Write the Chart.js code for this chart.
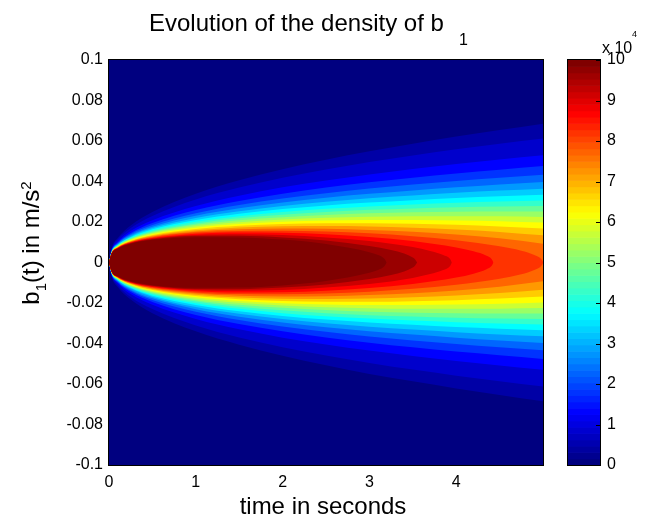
<!DOCTYPE html>
<html><head><meta charset="utf-8">
<script src="https://cdn.jsdelivr.net/npm/chart.js@4.4.1/dist/chart.umd.min.js"></script>
<style>
html,body{margin:0;padding:0;background:#fff;}
#wrap{position:relative;width:671px;height:521px;overflow:hidden;}
#main{position:absolute;left:0;top:0;}
#cbar{position:absolute;left:560px;top:0;}
</style></head><body>
<div id="wrap"><canvas id="main" width="671" height="521"></canvas><canvas id="cbar" width="111" height="521"></canvas></div>
<script>
// ---- data ----
// sample times (s)
const timesS = [0, 0.03, 0.1, 0.25, 0.5, 1, 1.5, 2, 2.5, 3, 3.5, 4, 4.5, 5];
// density contour levels (x 10^4)
const densityLevels = [0.25, 0.5, 1, 1.5, 2, 2.5, 3, 3.5, 4, 4.5, 5, 5.5, 6, 6.5, 7, 7.5, 8, 8.5, 9, 9.5, 10];
// time at which a closed level region ends (null = reaches the right edge)
const levelEndTimes = [null, null, null, null, null, null, null, null, null, null, null, null, null, null, null, null, null, 4.43, 3.95, 3.55, 3.2];
// half-width |b1| (m/s^2) of the region where density >= level, at each sample time
const hw_0_25 = [0, 0.0070, 0.0121, 0.0183, 0.0250, 0.0340, 0.0406, 0.0461, 0.0508, 0.0550, 0.0587, 0.0622, 0.0654, 0.0685];
const hw_0_5  = [0, 0.0066, 0.0113, 0.0170, 0.0230, 0.0311, 0.0370, 0.0418, 0.0459, 0.0496, 0.0529, 0.0559, 0.0586, 0.0612];
const hw_1    = [0, 0.0061, 0.0104, 0.0156, 0.0209, 0.0279, 0.0330, 0.0371, 0.0405, 0.0435, 0.0462, 0.0487, 0.0509, 0.0530];
const hw_1_5  = [0, 0.0059, 0.0099, 0.0146, 0.0195, 0.0259, 0.0304, 0.0340, 0.0370, 0.0396, 0.0419, 0.0440, 0.0458, 0.0476];
const hw_2    = [0, 0.0057, 0.0095, 0.0140, 0.0185, 0.0243, 0.0284, 0.0316, 0.0342, 0.0365, 0.0385, 0.0403, 0.0419, 0.0433];
const hw_2_5  = [0, 0.0055, 0.0092, 0.0134, 0.0177, 0.0231, 0.0268, 0.0296, 0.0320, 0.0339, 0.0356, 0.0371, 0.0385, 0.0397];
const hw_3    = [0, 0.0054, 0.0089, 0.0129, 0.0170, 0.0220, 0.0253, 0.0279, 0.0300, 0.0317, 0.0331, 0.0344, 0.0355, 0.0364];
const hw_3_5  = [0, 0.0052, 0.0087, 0.0125, 0.0164, 0.0210, 0.0241, 0.0264, 0.0282, 0.0296, 0.0308, 0.0319, 0.0327, 0.0334];
const hw_4    = [0, 0.0051, 0.0085, 0.0122, 0.0158, 0.0201, 0.0229, 0.0250, 0.0265, 0.0277, 0.0287, 0.0295, 0.0301, 0.0306];
const hw_4_5  = [0, 0.0050, 0.0083, 0.0118, 0.0153, 0.0193, 0.0219, 0.0236, 0.0250, 0.0260, 0.0267, 0.0273, 0.0277, 0.0279];
const hw_5    = [0, 0.0050, 0.0081, 0.0115, 0.0148, 0.0186, 0.0209, 0.0224, 0.0235, 0.0243, 0.0248, 0.0251, 0.0252, 0.0252];
const hw_5_5  = [0, 0.0049, 0.0079, 0.0113, 0.0144, 0.0179, 0.0199, 0.0212, 0.0221, 0.0226, 0.0229, 0.0229, 0.0228, 0.0225];
const hw_6    = [0, 0.0048, 0.0078, 0.0110, 0.0140, 0.0172, 0.0190, 0.0201, 0.0207, 0.0210, 0.0210, 0.0208, 0.0204, 0.0197];
const hw_6_5  = [0, 0.0047, 0.0077, 0.0107, 0.0136, 0.0165, 0.0181, 0.0190, 0.0194, 0.0194, 0.0191, 0.0186, 0.0178, 0.0168];
const hw_7    = [0, 0.0047, 0.0075, 0.0105, 0.0132, 0.0159, 0.0173, 0.0179, 0.0180, 0.0178, 0.0172, 0.0163, 0.0151, 0.0134];
const hw_7_5  = [0, 0.0046, 0.0074, 0.0103, 0.0128, 0.0153, 0.0164, 0.0168, 0.0167, 0.0161, 0.0152, 0.0138, 0.0120, 0.0093];
const hw_8    = [0, 0.0046, 0.0073, 0.0101, 0.0125, 0.0148, 0.0156, 0.0157, 0.0153, 0.0144, 0.0130, 0.0110, 0.0080, 0.0004];
const hw_8_5  = [0, 0.0045, 0.0072, 0.0099, 0.0121, 0.0142, 0.0148, 0.0147, 0.0139, 0.0126, 0.0106, 0.0074, null, null];
const hw_9    = [0, 0.0044, 0.0071, 0.0097, 0.0118, 0.0136, 0.0140, 0.0136, 0.0124, 0.0106, 0.0076, null, null, null];
const hw_9_5  = [0, 0.0044, 0.0069, 0.0095, 0.0115, 0.0131, 0.0132, 0.0124, 0.0109, 0.0082, 0.0025, null, null, null];
const hw_10   = [0, 0.0044, 0.0068, 0.0093, 0.0112, 0.0125, 0.0124, 0.0113, 0.0091, 0.0051, null, null, null, null];
const halfWidths = [hw_0_25, hw_0_5, hw_1, hw_1_5, hw_2, hw_2_5, hw_3, hw_3_5, hw_4, hw_4_5, hw_5, hw_5_5, hw_6, hw_6_5, hw_7, hw_7_5, hw_8, hw_8_5, hw_9, hw_9_5, hw_10];
// extra samples near the rounded right-hand tips of the highest levels
const tipT_8   = [4.75, 4.9, 4.98];   const tipW_8   = [0.0058, 0.0037, 0.0017];
const tipT_8_5 = [4.2, 4.35, 4.41];   const tipW_8_5 = [0.0055, 0.0033, 0.0016];
const tipT_9   = [3.7, 3.85, 3.93];   const tipW_9   = [0.0057, 0.0037, 0.0017];
const tipT_9_5 = [3.25, 3.4, 3.52];   const tipW_9_5 = [0.0062, 0.0044, 0.0019];
const tipT_10  = [3.1, 3.17];         const tipW_10  = [0.0037, 0.0020];
const tipTimes  = { 8: tipT_8, 8.5: tipT_8_5, 9: tipT_9, 9.5: tipT_9_5, 10: tipT_10 };
const tipWidths = { 8: tipW_8, 8.5: tipW_8_5, 9: tipW_9, 9.5: tipW_9_5, 10: tipW_10 };

const xTickValues = [0, 1, 2, 3, 4];
const yTickValues = [-0.1, -0.08, -0.06, -0.04, -0.02, 0, 0.02, 0.04, 0.06, 0.08, 0.1];
const yTickLabels = ['-0.1', '-0.08', '-0.06', '-0.04', '-0.02', '0', '0.02', '0.04', '0.06', '0.08', '0.1'];
const colorbarTicks = [0, 1, 2, 3, 4, 5, 6, 7, 8, 9, 10];
const colorbarMax = 10;

// ---- styling ----
const FONT = '"Liberation Sans", Arial, Helvetica, sans-serif';
function jet(v) {
  const c = x => Math.round(255 * Math.max(0, Math.min(1, x)));
  return `rgb(${c(1.5 - Math.abs(4 * v - 3))},${c(1.5 - Math.abs(4 * v - 2))},${c(1.5 - Math.abs(4 * v - 1))})`;
}
function bandColor(k) {
  if (k === densityLevels.length - 1) return jet(1);
  const mid = (densityLevels[k] + densityLevels[k + 1]) / 2;
  return jet(mid / colorbarMax);
}

const datasets = [];
densityLevels.forEach((L, k) => {
  let pts = [];
  timesS.forEach((t, i) => {
    const w = halfWidths[k][i];
    if (w !== null) pts.push({ t, w });
  });
  if (tipTimes[L]) tipTimes[L].forEach((t, i) => pts.push({ t, w: tipWidths[L][i] }));
  if (levelEndTimes[k] !== null) pts.push({ t: levelEndTimes[k], w: 0 });
  pts.sort((a, b) => a.t - b.t);
  const upper = pts.map(p => ({ x: p.t, y: p.w }));
  const lower = pts.map(p => ({ x: p.t, y: -p.w }));
  const order = densityLevels.length - k;
  const common = { borderWidth: 0, borderColor: 'rgba(0,0,0,0)', pointRadius: 0, pointHoverRadius: 0, cubicInterpolationMode: 'monotone', order };
  datasets.push(Object.assign({ label: 'density >= ' + L + 'e4', data: upper, backgroundColor: bandColor(k), fill: '+1' }, common));
  datasets.push(Object.assign({ label: '', data: lower, backgroundColor: bandColor(k), fill: false }, common));
});

const mainPlugin = {
  id: 'mainDecor',
  beforeDatasetsDraw(chart) {
    const { ctx, chartArea: a } = chart;
    ctx.save();
    ctx.fillStyle = jet(0);
    ctx.fillRect(a.left, a.top, a.right - a.left, a.bottom - a.top);
    ctx.restore();
  },
  afterDatasetsDraw(chart) {
    const { ctx, chartArea: a } = chart;
    ctx.save();
    ctx.strokeStyle = '#000';
    ctx.lineWidth = 1;
    ctx.strokeRect(a.left - 0.5, a.top - 0.5, a.right - a.left + 1, a.bottom - a.top + 1);
    ctx.restore();
  },
  afterDraw(chart) {
    const ctx = chart.ctx;
    ctx.save();
    ctx.fillStyle = '#000';
    ctx.textBaseline = 'alphabetic';
    // title
    ctx.textAlign = 'left';
    ctx.font = '24px ' + FONT;
    ctx.fillText('Evolution of the density of b', 149, 31);
    ctx.font = '16px ' + FONT;
    ctx.fillText('1', 459, 45);
    // x label
    ctx.textAlign = 'center';
    ctx.font = '24px ' + FONT;
    ctx.fillText('time in seconds', 323, 514);
    // y label (rotated)
    ctx.translate(39, 243);
    ctx.rotate(-Math.PI / 2);
    ctx.textAlign = 'left';
    const pieces = [
      { t: 'b', s: 24, dy: 0 },
      { t: '1', s: 15, dy: 7 },
      { t: '(t) in m/s', s: 24, dy: 0 },
      { t: '2', s: 15, dy: -8 }
    ];
    let total = 0;
    pieces.forEach(p => { ctx.font = p.s + 'px ' + FONT; p.w = ctx.measureText(p.t).width; total += p.w; });
    let x = -total / 2;
    pieces.forEach(p => { ctx.font = p.s + 'px ' + FONT; ctx.fillText(p.t, x, p.dy); x += p.w; });
    ctx.restore();
  }
};

new Chart(document.getElementById('main'), {
  type: 'line',
  data: { datasets },
  options: {
    responsive: false,
    devicePixelRatio: 1,
    animation: false,
    events: [],
    layout: { padding: { top: 60, right: 128, bottom: 0, left: 0 } },
    plugins: { legend: { display: false }, tooltip: { enabled: false }, title: { display: false } },
    scales: {
      x: {
        type: 'linear', min: 0, max: 5,
        grid: { display: false, drawTicks: false },
        border: { display: false },
        ticks: { color: '#000', font: { family: FONT, size: 16 }, padding: 8, maxRotation: 0, autoSkip: false },
        afterBuildTicks: s => { s.ticks = xTickValues.map(v => ({ value: v })); },
        afterFit: s => { s.height = 56; }
      },
      y: {
        type: 'linear', min: -0.1, max: 0.1,
        grid: { display: false, drawTicks: false },
        border: { display: false },
        ticks: {
          color: '#000', font: { family: FONT, size: 16 }, padding: 6, autoSkip: false,
          callback: v => { const i = yTickValues.findIndex(t => Math.abs(t - v) < 1e-9); return i >= 0 ? yTickLabels[i] : ''; }
        },
        afterBuildTicks: s => { s.ticks = yTickValues.map(v => ({ value: v })); },
        afterFit: s => { s.width = 109; }
      }
    }
  },
  plugins: [mainPlugin]
});

// ---- colorbar ----
const cbarPlugin = {
  id: 'cbarDecor',
  beforeDatasetsDraw(chart) {
    const { ctx, chartArea: a } = chart;
    const ys = chart.scales.y;
    const n = 64;
    ctx.save();
    for (let i = 0; i < n; i++) {
      const y0 = ys.getPixelForValue(i * colorbarMax / n);
      const y1 = ys.getPixelForValue((i + 1) * colorbarMax / n);
      ctx.fillStyle = jet(i / (n - 1));
      ctx.fillRect(a.left, y1, a.right - a.left, y0 - y1 + 0.6);
    }
    ctx.strokeStyle = '#000';
    ctx.lineWidth = 1;
    colorbarTicks.forEach(v => {
      const y = Math.round(ys.getPixelForValue(v)) + 0.5;
      ctx.beginPath(); ctx.moveTo(a.right - 4, y); ctx.lineTo(a.right, y); ctx.stroke();
    });
    ctx.strokeRect(a.left - 0.5, a.top - 0.5, a.right - a.left + 1, a.bottom - a.top + 1);
    ctx.fillStyle = '#000';
    ctx.textBaseline = 'alphabetic';
    ctx.textAlign = 'left';
    ctx.font = '16px ' + FONT;
    ctx.fillText('x 10', 42, 53);
    ctx.font = '9px ' + FONT;
    ctx.fillText('4', 72, 37);
    ctx.restore();
  }
};

new Chart(document.getElementById('cbar'), {
  type: 'line',
  data: { datasets: [] },
  options: {
    responsive: false,
    devicePixelRatio: 1,
    animation: false,
    events: [],
    layout: { padding: { top: 60, right: 0, bottom: 56, left: 8 } },
    plugins: { legend: { display: false }, tooltip: { enabled: false } },
    scales: {
      x: { type: 'linear', min: 0, max: 1, display: false },
      y: {
        type: 'linear', position: 'right', min: 0, max: colorbarMax,
        grid: { display: false, drawTicks: false },
        border: { display: false },
        ticks: { color: '#000', font: { family: FONT, size: 16 }, padding: 7, autoSkip: false },
        afterBuildTicks: s => { s.ticks = colorbarTicks.map(v => ({ value: v })); },
        afterFit: s => { s.width = 71; }
      }
    }
  },
  plugins: [cbarPlugin]
});
</script>
</body></html>
